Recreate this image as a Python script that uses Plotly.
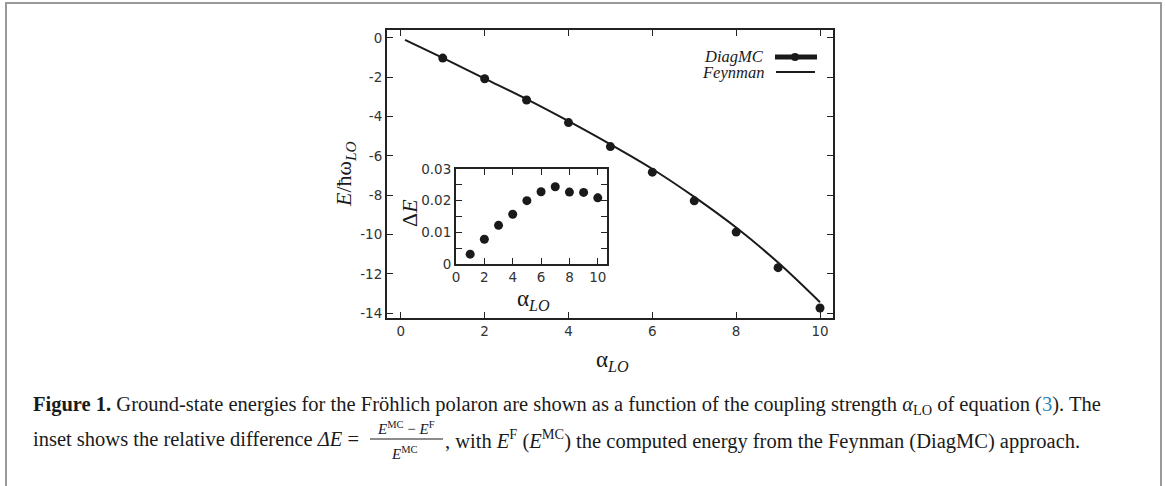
import plotly.graph_objects as go

# 数据
alpha = [1, 2, 3, 4, 5, 6, 7, 8, 9, 10]
e_diagmc = [-1.03, -2.08, -3.16, -4.31, -5.53, -6.83, -8.29, -9.88, -11.69, -13.74]
e_diagmc_err = [0.02, 0.02, 0.02, 0.03, 0.03, 0.04, 0.05, 0.06, 0.07, 0.08]

alpha_feyn = [0.1, 1, 2, 3, 4, 5, 6, 7, 8, 9, 10]
e_feyn = [-0.10, -1.02, -2.07, -3.12, -4.24, -5.42, -6.67, -8.09, -9.65, -11.43, -13.45]

delta_e = [0.0031, 0.0078, 0.0122, 0.0157, 0.0200, 0.0228, 0.0244, 0.0227, 0.0226, 0.0209]
delta_e_err = [0.0003, 0.0003, 0.0003, 0.0004, 0.0004, 0.0005, 0.0009, 0.0011, 0.0011, 0.0013]

main_yticks = [0, -2, -4, -6, -8, -10, -12, -14]
main_yticktext = ['0', '-2', '-4', '-6', '-8', '-10', '-12', '-14']
inset_yticks = [0, 0.01, 0.02, 0.03]
inset_yticktext = ['0', '0.01', '0.02', '0.03']

W, H = 1165, 486
SERIF = 'Liberation Serif'
SANS = 'DejaVu Sans'
INK = '#1a1a1a'


def px(x):
    return x / W


def py(y):
    return 1 - y / H


fig = go.Figure()

#! 主图
fig.add_trace(go.Scatter(x=alpha_feyn, y=e_feyn, mode='lines', line=dict(color=INK, width=2, shape='spline'),
                         showlegend=False, xaxis='x', yaxis='y'))
fig.add_trace(go.Scatter(x=alpha, y=e_diagmc, mode='markers',
                         error_y=dict(type='data', array=e_diagmc_err, color=INK, thickness=2, width=0),
                         marker=dict(color=INK, size=9), showlegend=False, xaxis='x', yaxis='y'))

#! 插图
fig.add_trace(go.Scatter(x=alpha, y=delta_e, mode='markers',
                         error_y=dict(type='data', array=delta_e_err, color=INK, thickness=2.5, width=0),
                         marker=dict(color=INK, size=9), showlegend=False, xaxis='x2', yaxis='y2'))

axis_common = dict(showline=True, linecolor='#222', linewidth=2, mirror='allticks', ticks='inside',
                   ticklen=6, tickwidth=1.2, tickcolor='#222', showgrid=False, zeroline=False,
                   automargin=False, tickfont=dict(family=SANS, size=13.5, color='#333'))

CAP = dict(family=SERIF, size=20.5, color=INK)
annotations = [
    # 坐标轴标题
    dict(x=px(612), y=py(361), text='α<sub><i>LO</i></sub>', font=dict(family=SERIF, size=23, color=INK)),
    dict(x=px(345), y=py(174), text='<i>E</i>/ħω<sub><i>LO</i></sub>', textangle=-90,
         font=dict(family=SERIF, size=22, color=INK)),
    dict(x=px(533), y=py(300), text='α<sub><i>LO</i></sub>', font=dict(family=SERIF, size=23, color=INK)),
    dict(x=px(410), y=py(213), text='Δ<i>E</i>', textangle=-90, font=dict(family=SERIF, size=22, color=INK)),
    # 图例
    dict(x=px(766), y=py(57), text='<i>DiagMC</i>', xanchor='right', font=dict(family=SERIF, size=16.5, color=INK)),
    dict(x=px(766), y=py(72), text='<i>Feynman</i>', xanchor='right', font=dict(family=SERIF, size=16.5, color=INK)),
    # 图注
    dict(x=px(31), y=py(405), xanchor='left',
         text="<b>Figure 1.</b> Ground-state energies for the Fröhlich polaron are shown as a function of the coupling "
              "strength <i>α</i><sub>LO</sub> of equation (<span style='color:#2a86c0'>3</span>). The",
         font=CAP),
    dict(x=px(31), y=py(439), xanchor='left',
         text='inset shows the relative difference <i>ΔE</i> =&nbsp;', font=CAP),
    dict(x=px(406), y=py(428), text='<i>E</i><sup>MC</sup> − <i>E</i><sup>F</sup>',
         font=dict(family=SERIF, size=15, color=INK)),
    dict(x=px(404), y=py(453), text='<i>E</i><sup>MC</sup>', font=dict(family=SERIF, size=15, color=INK)),
    dict(x=px(443), y=py(439), xanchor='left',
         text=', with <i>E</i><sup>F</sup> (<i>E</i><sup>MC</sup>) the computed energy from the Feynman (DiagMC) approach.',
         font=CAP),
]
for a in annotations:
    a.setdefault('xanchor', 'center')
    a.update(xref='paper', yref='paper', yanchor='middle', showarrow=False)

shapes = [
    # 外框
    dict(type='rect', xref='paper', yref='paper', x0=px(6), x1=px(1161), y0=py(3), y1=py(500),
         line=dict(color='#999', width=2)),
    # 图例线
    dict(type='line', xref='paper', yref='paper', x0=px(775), x1=px(817), y0=py(57), y1=py(57),
         line=dict(color=INK, width=5)),
    dict(type='circle', xref='paper', yref='paper', x0=px(791), x1=px(799), y0=py(53), y1=py(61),
         fillcolor=INK, line=dict(color=INK, width=0)),
    dict(type='line', xref='paper', yref='paper', x0=px(776), x1=px(815), y0=py(72), y1=py(72),
         line=dict(color=INK, width=2)),
    # 分数线
    dict(type='line', xref='paper', yref='paper', x0=px(370), x1=px(443), y0=py(439), y1=py(439),
         line=dict(color=INK, width=1)),
]

layout = go.Layout(
    width=W, height=H,
    margin=dict(l=0, r=0, t=0, b=0),
    paper_bgcolor='white', plot_bgcolor='white',
    xaxis=dict(axis_common, domain=[px(387), px(833)], range=[-0.33, 10.31], tickvals=[0, 2, 4, 6, 8, 10],
               anchor='y'),
    yaxis=dict(axis_common, domain=[py(318), py(30)], range=[-14.25, 0.4], tickvals=main_yticks,
               ticktext=main_yticktext, anchor='x'),
    xaxis2=dict(axis_common, domain=[px(456), px(607)], range=[0, 10.65], tickvals=[0, 2, 4, 6, 8, 10],
                anchor='y2'),
    yaxis2=dict(axis_common, domain=[py(264), py(169)], range=[0, 0.03], tickvals=inset_yticks,
                ticktext=inset_yticktext, anchor='x2',
                minor=dict(dtick=0.005, ticks='inside', ticklen=6, tickcolor='#222')),
    annotations=annotations,
    shapes=shapes,
)
fig.update_layout(layout)

# 去掉页面默认边距
fig.write_html('out.html', config={'displayModeBar': False},
               post_script="document.body.style.margin='0';")
